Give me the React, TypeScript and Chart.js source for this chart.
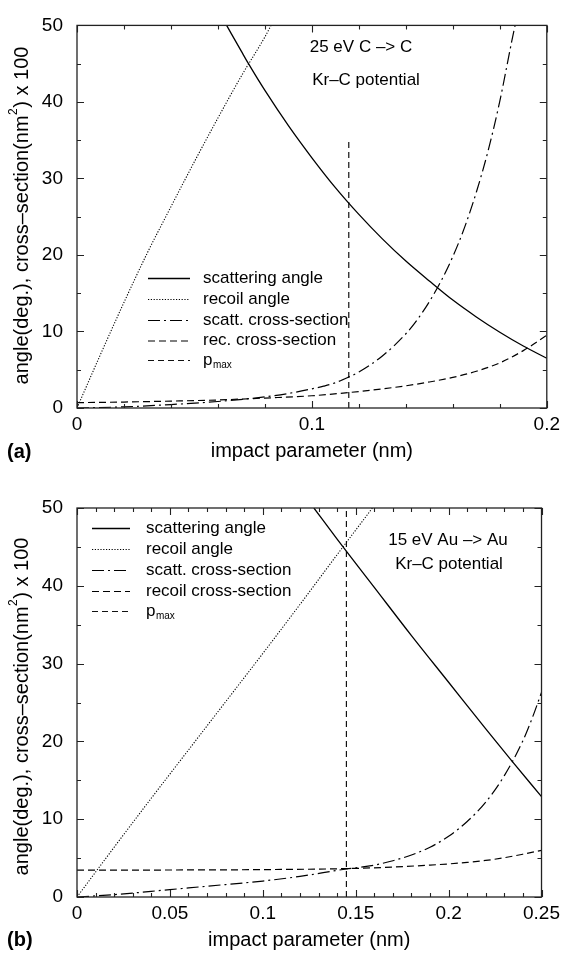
import React, { useEffect, useRef } from "react";
import { Chart, registerables } from "chart.js";
Chart.register(...registerables);

// ---------- Panel (a): 25 eV C -> C ----------
const aX_scatAngle = [0.0637, 0.07, 0.073, 0.08, 0.09, 0.10, 0.11, 0.12, 0.13, 0.14, 0.15, 0.16, 0.17, 0.18, 0.19, 0.20];
const aY_scatAngle = [50, 46.6, 45.0, 41.5, 36.9, 32.7, 28.8, 25.3, 22.1, 19.2, 16.6, 14.1, 11.9, 9.9, 8.1, 6.5];
const aX_recAngle = [0, 0.01, 0.02, 0.03, 0.04, 0.05, 0.06, 0.07, 0.08, 0.0826];
const aY_recAngle = [0, 7.0, 13.8, 20.3, 26.3, 32.2, 37.9, 43.4, 48.5, 50];
const aX_scatCs = [0, 0.02, 0.04, 0.06, 0.08, 0.09, 0.10, 0.105, 0.11, 0.116, 0.12, 0.13, 0.14, 0.145, 0.15, 0.155, 0.16, 0.165, 0.17, 0.175, 0.18, 0.185, 0.1865];
const aY_scatCs = [0, 0.15, 0.45, 0.85, 1.45, 1.9, 2.5, 2.85, 3.3, 4.1, 4.7, 6.8, 9.7, 11.6, 13.9, 16.6, 19.8, 23.6, 28.2, 33.6, 40.1, 47.8, 50];
const aX_recCs = [0, 0.02, 0.04, 0.06, 0.08, 0.10, 0.12, 0.13, 0.14, 0.15, 0.16, 0.17, 0.18, 0.19, 0.20];
const aY_recCs = [0.7, 0.78, 0.9, 1.05, 1.3, 1.6, 2.15, 2.5, 2.9, 3.4, 4.0, 4.8, 5.9, 7.5, 9.5];
const aPmaxX = [0.1157, 0.1157];
const aPmaxY = [0, 35];
const aLegend = ["scattering angle", "recoil angle", "scatt. cross-section", "rec. cross-section", "p"];
const aNotes = ["25 eV C \u2013> C", "Kr\u2013C potential"];
const aXTicks = { min: 0, max: 0.2, step: 0.1, minor: 0.02 };

// ---------- Panel (b): 15 eV Au -> Au ----------
const bX_scatAngle = [0.1275, 0.14, 0.16, 0.18, 0.20, 0.22, 0.234, 0.25];
const bY_scatAngle = [50, 46.0, 39.8, 33.6, 27.6, 21.6, 17.5, 12.9];
const bX_recAngle = [0, 0.02, 0.04, 0.06, 0.08, 0.10, 0.12, 0.14, 0.159];
const bY_recAngle = [0, 6.4, 12.7, 18.9, 25.1, 31.3, 37.6, 44.0, 50];
const bX_scatCs = [0, 0.02, 0.05, 0.08, 0.10, 0.12, 0.145, 0.15, 0.16, 0.17, 0.18, 0.19, 0.20, 0.21, 0.22, 0.23, 0.24, 0.245, 0.25];
const bY_scatCs = [0, 0.3, 0.95, 1.6, 2.05, 2.65, 3.6, 3.75, 4.1, 4.66, 5.4, 6.4, 7.8, 9.7, 12.2, 15.6, 20.1, 23.0, 26.3];
const bX_recCs = [0, 0.05, 0.10, 0.145, 0.17, 0.19, 0.20, 0.21, 0.22, 0.23, 0.24, 0.25];
const bY_recCs = [3.45, 3.47, 3.52, 3.65, 3.85, 4.1, 4.25, 4.45, 4.7, 5.05, 5.5, 6.0];
const bPmaxX = [0.145, 0.145];
const bPmaxY = [0, 50];
const bLegend = ["scattering angle", "recoil angle", "scatt. cross-section", "recoil cross-section", "p"];
const bNotes = ["15 eV Au \u2013> Au", "Kr\u2013C potential"];
const bXTicks = { min: 0, max: 0.25, step: 0.05, minor: 0.01 };

const yTicks = { min: 0, max: 50, step: 10, minor: 5 };
const xTitle = "impact parameter (nm)";
const yTitleParts = ["angle(deg.), cross\u2013section(nm", "2", ") x 100"];

const FONT = '"Liberation Sans", Arial, Helvetica, sans-serif';

const STYLES = [
  { dash: [] as number[], width: 1.3, color: "#000" },
  { dash: [1.2, 1.6], width: 1.1, color: "#000" },
  { dash: [12, 4, 2, 4], width: 1.2, color: "#000" },
  { dash: [7, 4], width: 1.2, color: "#000" },
  { dash: [6, 4], width: 1.2, color: "#111" },
];

function pts(xs: number[], ys: number[]) {
  return xs.map((x, i) => ({ x, y: ys[i] }));
}

function makeDatasets(series: [number[], number[]][], labels: string[]) {
  return series.map(([xs, ys], i) => ({
    label: labels[i],
    data: pts(xs, ys),
    borderColor: STYLES[i].color,
    borderWidth: STYLES[i].width,
    borderDash: STYLES[i].dash,
    pointRadius: 0,
    fill: false,
    cubicInterpolationMode: i === 4 ? "default" : "monotone",
    tension: 0,
  }));
}

type Layout = {
  legendX1: number; legendX2: number; legendTextX: number; legendRows: number[];
  notes: { x: number; y: number }[]; letter: string; letterY: number;
  yTitleX: number; yTitleY: number;
};

function makeOverlay(xt: any, layout: Layout, notes: string[], labels: string[]) {
  return {
    id: "overlay",
    afterDatasetsDraw(chart: any) {
      const { ctx, chartArea } = chart;
      const { left, right, top, bottom } = chartArea;
      const xs = chart.scales.x;
      const ys = chart.scales.y;
      ctx.save();
      ctx.strokeStyle = "#222";
      ctx.lineWidth = 1.3;
      ctx.setLineDash([]);
      ctx.strokeRect(left, top, right - left, bottom - top);
      ctx.lineWidth = 1.1;
      const MAJ = 7, MIN = 4;
      const nx = Math.round((xt.max - xt.min) / xt.minor);
      for (let i = 0; i <= nx; i++) {
        const v = xt.min + i * xt.minor;
        const r = v / xt.step;
        const major = Math.abs(r - Math.round(r)) < 1e-6;
        const len = major ? MAJ : MIN;
        const px = Math.round(xs.getPixelForValue(v)) + 0.5;
        ctx.beginPath();
        ctx.moveTo(px, bottom); ctx.lineTo(px, bottom - len);
        ctx.moveTo(px, top); ctx.lineTo(px, top + len);
        ctx.stroke();
      }
      const ny = Math.round((yTicks.max - yTicks.min) / yTicks.minor);
      for (let i = 0; i <= ny; i++) {
        const v = yTicks.min + i * yTicks.minor;
        const major = Math.abs(v / yTicks.step - Math.round(v / yTicks.step)) < 1e-6;
        const len = major ? MAJ : MIN;
        const py = Math.round(ys.getPixelForValue(v)) + 0.5;
        ctx.beginPath();
        ctx.moveTo(left, py); ctx.lineTo(left + len, py);
        ctx.moveTo(right, py); ctx.lineTo(right - len, py);
        ctx.stroke();
      }
      // legend
      ctx.fillStyle = "#000";
      ctx.textBaseline = "middle";
      ctx.textAlign = "left";
      chart.data.datasets.forEach((ds: any, i: number) => {
        const y = layout.legendRows[i];
        ctx.strokeStyle = ds.borderColor;
        ctx.lineWidth = ds.borderWidth;
        ctx.setLineDash(ds.borderDash);
        ctx.beginPath();
        ctx.moveTo(layout.legendX1, y + 0.5);
        ctx.lineTo(layout.legendX2, y + 0.5);
        ctx.stroke();
        ctx.setLineDash([]);
        ctx.font = `17px ${FONT}`;
        ctx.fillText(labels[i], layout.legendTextX, y);
        if (i === 4) {
          const w = ctx.measureText(labels[i]).width;
          ctx.font = `10px ${FONT}`;
          ctx.fillText("max", layout.legendTextX + w + 0.5, y + 5);
        }
      });
      // notes
      ctx.font = `17px ${FONT}`;
      ctx.textAlign = "center";
      notes.forEach((t, i) => ctx.fillText(t, layout.notes[i].x, layout.notes[i].y));
      // panel letter
      ctx.font = `bold 20px ${FONT}`;
      ctx.textAlign = "left";
      ctx.fillText(layout.letter, 7, layout.letterY);
      // y title with superscript
      ctx.save();
      ctx.translate(layout.yTitleX, layout.yTitleY);
      ctx.rotate(-Math.PI / 2);
      const f1 = `20px ${FONT}`;
      const f2 = `12px ${FONT}`;
      ctx.font = f1;
      const w1 = ctx.measureText(yTitleParts[0]).width;
      const w3 = ctx.measureText(yTitleParts[2]).width;
      ctx.font = f2;
      const w2 = ctx.measureText(yTitleParts[1]).width;
      let px = -(w1 + w2 + w3) / 2;
      ctx.textAlign = "left";
      ctx.font = f1;
      ctx.fillText(yTitleParts[0], px, 0);
      px += w1;
      ctx.font = f2;
      ctx.fillText(yTitleParts[1], px + 0.5, -8);
      px += w2 + 1;
      ctx.font = f1;
      ctx.fillText(yTitleParts[2], px, 0);
      ctx.restore();
      ctx.restore();
    },
  };
}

function fmt(v: any) {
  return String(parseFloat(Number(v).toFixed(4)));
}

function makeConfig(datasets: any[], xt: any, pad: any, xAxisH: number, xTitlePad: number, overlay: any) {
  return {
    type: "line",
    data: { datasets },
    options: {
      animation: false,
      responsive: false,
      maintainAspectRatio: false,
      layout: { padding: pad },
      plugins: { legend: { display: false }, tooltip: { enabled: false } },
      scales: {
        x: {
          type: "linear",
          min: xt.min,
          max: xt.max,
          grid: { display: false, drawTicks: false },
          border: { display: false },
          ticks: {
            stepSize: xt.step,
            autoSkip: false,
            maxRotation: 0,
            padding: 5,
            color: "#000",
            font: { family: FONT, size: 19 },
            callback: (v: any) => fmt(v),
          },
          title: {
            display: true,
            text: xTitle,
            color: "#000",
            font: { family: FONT, size: 20 },
            padding: { top: 0, bottom: xTitlePad },
          },
          afterFit: (s: any) => { s.height = xAxisH; },
        },
        y: {
          type: "linear",
          min: yTicks.min,
          max: yTicks.max,
          grid: { display: false, drawTicks: false },
          border: { display: false },
          ticks: {
            stepSize: yTicks.step,
            padding: 14,
            color: "#000",
            font: { family: FONT, size: 19 },
            callback: (v: any) => fmt(v),
          },
          title: { display: false },
          afterFit: (s: any) => { s.width = 77; },
        },
      },
    },
    plugins: [overlay],
  };
}

export default function App() {
  const refA = useRef<HTMLCanvasElement>(null);
  const refB = useRef<HTMLCanvasElement>(null);
  useEffect(() => {
    const dsA = makeDatasets(
      [[aX_scatAngle, aY_scatAngle], [aX_recAngle, aY_recAngle], [aX_scatCs, aY_scatCs], [aX_recCs, aY_recCs], [aPmaxX, aPmaxY]],
      aLegend
    );
    const dsB = makeDatasets(
      [[bX_scatAngle, bY_scatAngle], [bX_recAngle, bY_recAngle], [bX_scatCs, bY_scatCs], [bX_recCs, bY_recCs], [bPmaxX, bPmaxY]],
      bLegend
    );
    const ovA = makeOverlay(aXTicks, {
      legendX1: 148, legendX2: 190, legendTextX: 203,
      legendRows: [278, 299, 320, 340.5, 360],
      notes: [{ x: 361, y: 47 }, { x: 366, y: 80 }],
      letter: "(a)", letterY: 452,
      yTitleX: 22, yTitleY: 216,
    }, aNotes, aLegend);
    const ovB = makeOverlay(bXTicks, {
      legendX1: 92, legendX2: 130, legendTextX: 146,
      legendRows: [58, 79, 100, 121, 141],
      notes: [{ x: 448, y: 70 }, { x: 449, y: 94 }],
      letter: "(b)", letterY: 470,
      yTitleX: 22, yTitleY: 237,
    }, bNotes, bLegend);
    const a = new Chart(refA.current as any, makeConfig(dsA, aXTicks, { left: 0, right: 14, top: 15, bottom: 0 }, 62, 7, ovA) as any);
    const b = new Chart(refB.current as any, makeConfig(dsB, bXTicks, { left: 0, right: 18, top: 38, bottom: 0 }, 58, 3, ovB) as any);
    return () => { a.destroy(); b.destroy(); };
  }, []);
  return (
    <div style={{ position: "absolute", left: 0, top: 0, width: 565, height: 955, background: "#fff" }}>
      <canvas ref={refA} width={565} height={470} style={{ position: "absolute", left: 0, top: 0, display: "block" }} />
      <canvas ref={refB} width={565} height={485} style={{ position: "absolute", left: 0, top: 470, display: "block" }} />
    </div>
  );
}
